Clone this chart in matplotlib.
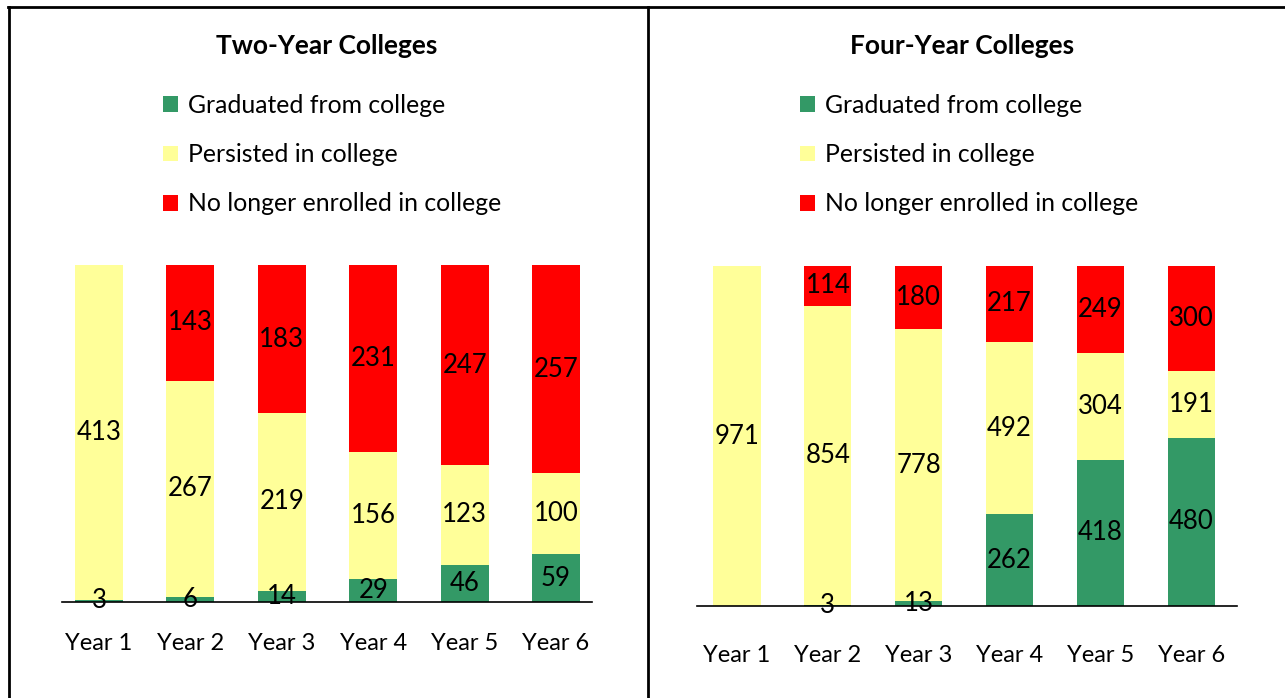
import matplotlib
matplotlib.use('Agg')
import matplotlib.pyplot as plt
from matplotlib.lines import Line2D
from matplotlib.patches import Patch

years = ['Year 1', 'Year 2', 'Year 3', 'Year 4', 'Year 5', 'Year 6']
series_names = ['Graduated from college', 'Persisted in college',
                'No longer enrolled in college']
colors = ['#339966', '#FFFF99', '#FF0000']

two_graduated = [3, 6, 14, 29, 46, 59]
two_persisted = [413, 267, 219, 156, 123, 100]
two_left = [0, 143, 183, 231, 247, 257]

four_graduated = [0, 3, 13, 262, 418, 480]
four_persisted = [971, 854, 778, 492, 304, 191]
four_left = [0, 114, 180, 217, 249, 300]

plt.rcParams['font.family'] = ['Lato', 'DejaVu Sans']

W, H = 1285, 698
fig = plt.figure(figsize=(W / 100, H / 100), dpi=100)


def px_axes(x0, x1, ytop, ybot):
    return fig.add_axes([x0 / W, 1 - ybot / H, (x1 - x0) / W, (ybot - ytop) / H])


def draw_panel(ax, title, stacks, xlim, width, title_x, legend_x, tick_pad):
    n = len(years)
    x = range(n)
    bottom = [0] * n
    for vals, col in zip(stacks, colors):
        ax.bar(x, vals, width=width, bottom=bottom, color=col, linewidth=0)
        for i, v in enumerate(vals):
            if v > 0:
                ax.text(i, bottom[i] + v / 2, str(v), ha='center', va='center',
                        fontsize=18.5, color='black')
        bottom = [b + v for b, v in zip(bottom, vals)]
    total = max(bottom)
    ax.set_xlim(*xlim)
    ax.set_ylim(0, total)
    ax.set_xticks(list(x))
    ax.set_xticklabels(years, fontsize=17)
    ax.tick_params(axis='x', length=0, pad=tick_pad)
    ax.set_yticks([])
    for s in ['top', 'left', 'right']:
        ax.spines[s].set_visible(False)
    ax.spines['bottom'].set_linewidth(1.2)
    ax.spines['bottom'].set_zorder(5)
    fig.text(title_x / W, 1 - 46 / H, title, ha='center', va='center',
             fontsize=19, fontweight='bold')
    handles = [Patch(facecolor=c, edgecolor='none') for c in colors]
    fig.legend(handles, series_names, loc='upper left',
               bbox_to_anchor=(legend_x / W, 1 - 94 / H), frameon=False,
               fontsize=17.8, handlelength=0.6, handleheight=0.6,
               handletextpad=0.4, labelspacing=1.06, borderpad=0,
               borderaxespad=0)


ax1 = px_axes(62, 592, 265, 602)
draw_panel(ax1, 'Two-Year Colleges', [two_graduated, two_persisted, two_left],
           (-0.405, 5.394), 0.525, 327, 163, 22)

ax2 = px_axes(697, 1237, 266, 606)
draw_panel(ax2, 'Four-Year Colleges', [four_graduated, four_persisted, four_left],
           (-0.44, 5.505), 0.52, 962, 800, 28)

# page borders
for xs, ys in [((8, 1285), (7, 7)), ((9, 9), (7, 698)), ((648, 648), (7, 698))]:
    fig.add_artist(Line2D([x / W for x in xs], [1 - y / H for y in ys],
                          color='black', linewidth=2, transform=fig.transFigure))

fig.savefig('out.png', dpi=100)
